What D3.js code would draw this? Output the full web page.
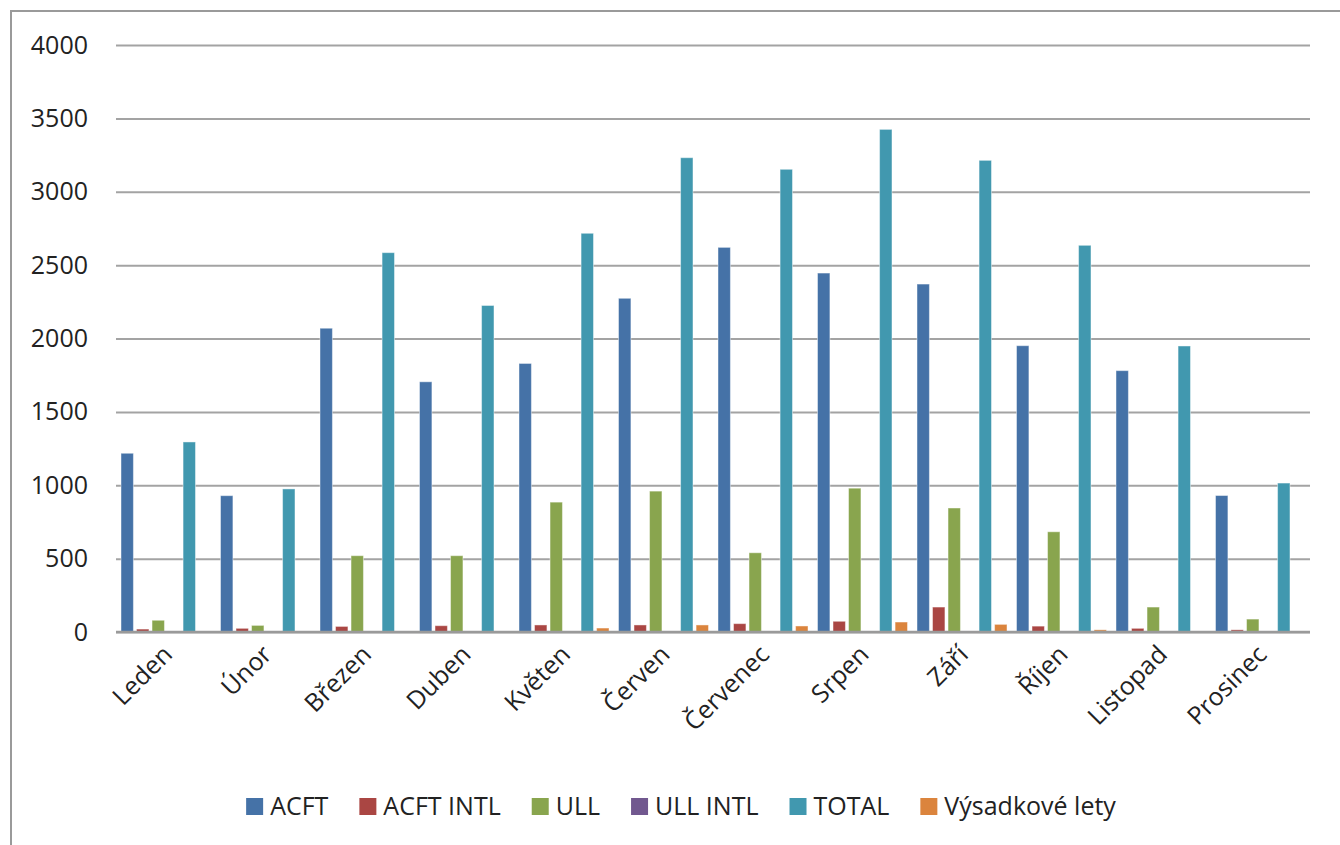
<!DOCTYPE html>
<html lang="cs">
<head>
  <meta charset="UTF-8">
  <title>Lety po měsících</title>
  <style>
    body { margin: 0; background: #fff; }
    svg text { font-family: 'Open Sans', sans-serif; fill: #222; }
  </style>
</head>
<body>
  <svg id="svg" width="1340" height="845"></svg>

  <script src="https://d3js.org/d3.v7.min.js"></script>
  <script>
    const months = ['Leden', 'Únor', 'Březen', 'Duben', 'Květen', 'Červen',
      'Červenec', 'Srpen', 'Září', 'Říjen', 'Listopad', 'Prosinec']

    const seriesNames = ['ACFT', 'ACFT INTL', 'ULL', 'ULL INTL', 'TOTAL', 'Výsadkové lety']
    const seriesColors = ['#4572A7', '#AA4643', '#89A54E', '#71588F', '#4198AF', '#DB843D']

    const acft      = [1218, 929, 2070, 1705, 1830, 2274, 2621, 2446, 2371, 1951, 1781, 930]
    const acftIntl  = [20, 25, 38, 43, 48, 48, 57, 73, 170, 40, 25, 15]
    const ull       = [80, 45, 520, 520, 885, 960, 540, 980, 845, 683, 170, 88]
    const ullIntl   = [0, 0, 0, 0, 0, 0, 0, 0, 0, 0, 0, 0]
    const total     = [1295, 975, 2585, 2225, 2717, 3232, 3153, 3425, 3214, 2635, 1949, 1015]
    const vysadkove = [0, 0, 0, 0, 27, 48, 41, 68, 52, 15, 0, 0]

    const yTicks = [0, 500, 1000, 1500, 2000, 2500, 3000, 3500, 4000]

    const seriesValues = [acft, acftIntl, ull, ullIntl, total, vysadkove]

    // rows for the data join: one per month, one entry per series
    const rows = months.map((m, i) => ({
      month: m,
      values: seriesNames.map((s, j) => ({ series: s, value: seriesValues[j][i] }))
    }))

    const svg = d3.select('#svg')

    // outer chart frame (runs off the right and bottom edge like the original)
    svg.append('rect')
      .attr('x', 11).attr('y', 11)
      .attr('width', 1400).attr('height', 900)
      .attr('fill', 'none')
      .attr('stroke', '#9a9a9a')
      .attr('stroke-width', 2)

    const x = d3.scaleBand()
      .domain(months)
      .range([116, 1310])

    const xInner = d3.scaleBand()
      .domain(seriesNames)
      .range([5, x.bandwidth() - 4.5])
      .paddingInner(0.2)

    const y = d3.scaleLinear()
      .domain([0, 4000])
      .range([632, 45])

    const color = d3.scaleOrdinal()
      .domain(seriesNames)
      .range(seriesColors)

    // gridlines + y labels
    const yAxis = svg.append('g')
      .attr('transform', 'translate(116,0)')
      .call(d3.axisLeft(y)
        .tickValues(yTicks)
        .tickFormat(d3.format('d'))
        .tickSize(-(1310 - 116))
        .tickPadding(28))

    yAxis.select('.domain').remove()
    yAxis.selectAll('.tick line')
      .attr('stroke', '#a3a3a3')
      .attr('stroke-width', 2)
    yAxis.selectAll('.tick text')
      .style('font-size', '25px')
      .attr('fill', '#222')

    // bars
    const groups = svg.append('g')
      .selectAll('g')
      .data(rows)
      .enter()
      .append('g')
      .attr('transform', d => `translate(${x(d.month)},0)`)

    groups.selectAll('rect')
      .data(d => d.values.filter(v => v.value > 0))
      .enter()
      .append('rect')
      .attr('x', d => xInner(d.series))
      .attr('y', d => y(d.value))
      .attr('width', xInner.bandwidth())
      .attr('height', d => y(0) - y(d.value))
      .attr('fill', d => color(d.series))
      .attr('stroke', 'rgba(255,255,255,0.45)')
      .attr('stroke-width', 1)

    // category axis line
    svg.append('line')
      .attr('x1', 116).attr('x2', 1310)
      .attr('y1', y(0)).attr('y2', y(0))
      .attr('stroke', '#9a9a9a')
      .attr('stroke-width', 2.5)

    // rotated month labels
    svg.append('g')
      .selectAll('text')
      .data(months)
      .enter()
      .append('text')
      .text(d => d)
      .attr('transform', d => `translate(${x(d) + x.bandwidth() / 2 + 8},${656}) rotate(-45)`)
      .attr('text-anchor', 'end')
      .style('font-size', '25px')

    // legend
    const legend = svg.append('g')
    const items = legend.selectAll('g')
      .data(seriesNames)
      .enter()
      .append('g')

    items.append('rect')
      .attr('width', 17).attr('height', 17)
      .attr('y', 798)
      .attr('fill', d => color(d))

    items.append('text')
      .text(d => d)
      .attr('x', 24)
      .attr('y', 815)
      .style('font-size', '25px')

    let cursor = 0
    items.each(function () {
      const w = d3.select(this).select('text').node().getComputedTextLength()
      d3.select(this).attr('transform', `translate(${cursor},0)`)
      cursor += 24 + w + 31
    })
    const legendWidth = cursor - 31
    legend.attr('transform', `translate(${681 - legendWidth / 2},0)`)
  </script>
</body>
</html>
